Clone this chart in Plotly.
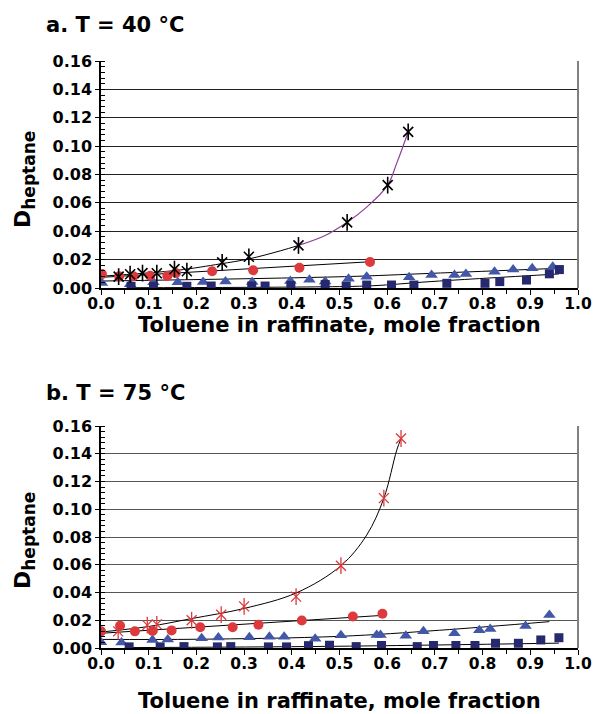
import plotly.graph_objects as go
from plotly.subplots import make_subplots

# ---- panel a, T = 40 C ----
stars_a_x = [0.037, 0.061, 0.087, 0.117, 0.154, 0.180, 0.254, 0.310, 0.414, 0.516, 0.601, 0.644]
stars_a_y = [0.0080, 0.0097, 0.0105, 0.0104, 0.0133, 0.0118, 0.0181, 0.0220, 0.0300, 0.0463, 0.0725, 0.1100]
circles_a_x = [0.002, 0.038, 0.068, 0.103, 0.139, 0.157, 0.233, 0.319, 0.416, 0.564]
circles_a_y = [0.0098, 0.0082, 0.0083, 0.0086, 0.0085, 0.0106, 0.0118, 0.0125, 0.0143, 0.0183]
tri_a_x = [0.002, 0.061, 0.110, 0.161, 0.214, 0.261, 0.317, 0.397, 0.437, 0.470, 0.519, 0.557,
           0.646, 0.693, 0.741, 0.765, 0.825, 0.864, 0.904, 0.947]
tri_a_y = [0.0035, 0.0026, 0.0040, 0.0040, 0.0042, 0.0045, 0.0043, 0.0050, 0.0058, 0.0045, 0.0066, 0.0080,
           0.0075, 0.0092, 0.0092, 0.0099, 0.0114, 0.0130, 0.0139, 0.0150]
sq_a_x = [0.063, 0.110, 0.180, 0.231, 0.316, 0.344, 0.398, 0.470, 0.514, 0.557, 0.609, 0.656,
          0.725, 0.805, 0.836, 0.892, 0.940, 0.961]
sq_a_y = [0.0012, 0.0012, 0.0012, 0.0014, 0.0014, 0.0014, 0.0018, 0.0025, 0.0014, 0.0021, 0.0021, 0.0021,
          0.0033, 0.0033, 0.0045, 0.0056, 0.0100, 0.0130]

# trend lines
fit_star_a_x = [0.0, 0.16, 0.25, 0.31, 0.376, 0.414]
fit_star_a_y = [0.0083, 0.0125, 0.0170, 0.0205, 0.0262, 0.0300]
fit_purple_a_x = [0.414, 0.47, 0.516, 0.557, 0.601, 0.62, 0.644]
fit_purple_a_y = [0.0300, 0.0370, 0.0463, 0.0570, 0.0725, 0.0880, 0.1100]
fit_circ_a_x = [0.0, 0.564]
fit_circ_a_y = [0.0075, 0.0185]
fit_tri_a_x = [0.0, 0.51, 0.69, 0.96]
fit_tri_a_y = [0.0049, 0.0080, 0.0103, 0.0139]
fit_sq_a_x = [0.06, 0.45, 0.57, 0.69, 0.96]
fit_sq_a_y = [0.0002, 0.0008, 0.0016, 0.0045, 0.0099]

# ---- panel b, T = 75 C ----
stars_b_x = [0.036, 0.097, 0.117, 0.190, 0.252, 0.300, 0.409, 0.503, 0.593, 0.629]
stars_b_y = [0.0120, 0.0165, 0.0170, 0.0200, 0.0240, 0.0300, 0.0370, 0.0593, 0.1080, 0.1510]
circles_b_x = [0.0, 0.040, 0.071, 0.108, 0.148, 0.208, 0.276, 0.330, 0.421, 0.528, 0.590]
circles_b_y = [0.0120, 0.0160, 0.0120, 0.0122, 0.0127, 0.0150, 0.0150, 0.0168, 0.0198, 0.0227, 0.0247]
tri_b_x = [0.0, 0.043, 0.108, 0.140, 0.211, 0.246, 0.311, 0.353, 0.384, 0.449, 0.503, 0.578, 0.586,
           0.639, 0.676, 0.741, 0.793, 0.816, 0.890, 0.940]
tri_b_y = [0.0042, 0.0040, 0.0058, 0.0062, 0.0070, 0.0075, 0.0077, 0.0081, 0.0081, 0.0066, 0.0092, 0.0094, 0.0094,
           0.0088, 0.0120, 0.0106, 0.0128, 0.0137, 0.0159, 0.0238]
sq_b_x = [0.059, 0.124, 0.174, 0.244, 0.272, 0.351, 0.389, 0.435, 0.479, 0.535, 0.588, 0.663,
          0.697, 0.744, 0.784, 0.827, 0.875, 0.922, 0.960]
sq_b_y = [0.0008, 0.0008, 0.0010, 0.0008, 0.0010, 0.0008, 0.0008, 0.0017, 0.0020, 0.0010, 0.0018, 0.0010,
          0.0018, 0.0018, 0.0018, 0.0034, 0.0034, 0.0058, 0.0074]

fit_star_b_x = [0.0, 0.10, 0.19, 0.30, 0.41, 0.503, 0.557, 0.593, 0.62, 0.629]
fit_star_b_y = [0.0115, 0.0155, 0.0212, 0.0285, 0.0398, 0.0593, 0.0814, 0.1080, 0.1426, 0.1510]
fit_circ_b_x = [0.0, 0.59]
fit_circ_b_y = [0.0106, 0.0235]
fit_tri_b_x = [0.0, 0.2, 0.5, 0.71, 0.94]
fit_tri_b_y = [0.0062, 0.0063, 0.0084, 0.0128, 0.0190]
fit_sq_b_x = [0.06, 0.48, 0.96]
fit_sq_b_y = [0.0003, 0.0012, 0.0035]

y_ticks = [0.0, 0.02, 0.04, 0.06, 0.08, 0.10, 0.12, 0.14, 0.16]
x_ticks = [0.0, 0.1, 0.2, 0.3, 0.4, 0.5, 0.6, 0.7, 0.8, 0.9, 1.0]

RED = "#DC3A3C"
BLUE = "#4357A8"
NAVY = "#27296F"
PURPLE = "#8E3F98"
FONT = "DejaVu Sans"

fig = make_subplots(rows=2, cols=1)


def line(x, y, row, color="black", w=1):
    fig.add_trace(go.Scatter(x=x, y=y, mode="lines", line=dict(color=color, width=w, shape="spline"),
                             hoverinfo="skip"), row=row, col=1)


def pts(x, y, row, symbol, color, size, lw=0):
    m = dict(symbol=symbol, size=size, color=color)
    if lw:
        m["line"] = dict(color=color, width=lw)
    fig.add_trace(go.Scatter(x=x, y=y, mode="markers", marker=m), row=row, col=1)


def stars(x, y, row, color, lw):
    # excel style star: an x with a vertical bar
    pts(x, y, row, "x-thin-open", color, 10, lw)
    pts(x, y, row, "line-ns-open", color, 12, lw)


# panel a
line(fit_sq_a_x, fit_sq_a_y, 1)
line(fit_tri_a_x, fit_tri_a_y, 1)
line(fit_circ_a_x, fit_circ_a_y, 1)
line(fit_star_a_x, fit_star_a_y, 1)
line(fit_purple_a_x, fit_purple_a_y, 1, PURPLE, 1.2)
pts(tri_a_x, tri_a_y, 1, "triangle-up", BLUE, 11)
pts(sq_a_x, sq_a_y, 1, "square", NAVY, 9)
pts(circles_a_x, circles_a_y, 1, "circle", RED, 10)
stars(stars_a_x, stars_a_y, 1, "black", 1.6)

# panel b
line(fit_sq_b_x, fit_sq_b_y, 2)
line(fit_tri_b_x, fit_tri_b_y, 2)
line(fit_circ_b_x, fit_circ_b_y, 2)
line(fit_star_b_x, fit_star_b_y, 2)
pts(tri_b_x, tri_b_y, 2, "triangle-up", BLUE, 11)
pts(sq_b_x, sq_b_y, 2, "square", NAVY, 9)
pts(circles_b_x, circles_b_y, 2, "circle", RED, 10)
stars(stars_b_x, stars_b_y, 2, RED, 1.3)

W, H = 594, 714
xdom = [101 / W, 578 / W]
ydoms = {1: [1 - 288 / H, 1 - 61 / H], 2: [1 - 648 / H, 1 - 426 / H]}
gridc = {1: "#222222", 2: "#555555"}

for r in (1, 2):
    fig.update_xaxes(domain=xdom, range=[0, 1.0], tickvals=x_ticks, tickformat=".1f", automargin=False,
                     showgrid=False, zeroline=False, showline=True, linecolor="black", linewidth=1.5,
                     ticks="outside", ticklen=5, tickcolor="black", tickwidth=1.2, ticklabelstandoff=-4,
                     minor=dict(dtick=0.05, ticks="outside", ticklen=4, tickcolor="black"),
                     tickfont=dict(family=FONT, size=15.5, color="black", weight="bold"),
                     row=r, col=1)
    fig.update_yaxes(domain=ydoms[r], range=[0, 0.16], tickvals=y_ticks, tickformat=".2f", automargin=False,
                     showgrid=True, gridcolor=gridc[r], gridwidth=1, zeroline=False,
                     showline=True, linecolor="black", linewidth=1.5,
                     ticks="outside", ticklen=4, tickcolor="black",
                     minor=dict(dtick=0.004, ticks="inside", ticklen=4, tickcolor="black", showgrid=False),
                     tickfont=dict(family=FONT, size=16, color="black", weight="bold"),
                     row=r, col=1)
    xr = "x" if r == 1 else "x2"
    yr = "y" if r == 1 else "y2"
    # grey right-hand border
    fig.add_shape(type="line", xref=xr + " domain", yref=yr + " domain", x0=1, x1=1, y0=0, y1=1,
                  line=dict(color="#808080", width=2))

# texts
titles = [("a. T = 40 °C", 25), ("b. T = 75 °C", 393)]
for txt, ypx in titles:
    fig.add_annotation(text="<b>" + txt + "</b>", xref="paper", yref="paper", x=44 / W, y=1 - ypx / H,
                       xanchor="left", yanchor="middle", showarrow=False,
                       font=dict(family=FONT, size=21, color="black"))

for ypx in (325, 701):
    fig.add_annotation(text="<b>Toluene in raffinate, mole fraction</b>", xref="paper", yref="paper",
                       x=339.5 / W, y=1 - ypx / H, xanchor="center", yanchor="middle", showarrow=False,
                       font=dict(family=FONT, size=21, color="black"))

for ypx in (180, 541):
    fig.add_annotation(text='<b>D<sub><span style="font-size:17px">heptane</span></sub></b>',
                       xref="paper", yref="paper", x=24 / W, y=1 - ypx / H, textangle=-90,
                       xanchor="center", yanchor="middle", showarrow=False,
                       font=dict(family=FONT, size=22, color="black"))

fig.update_layout(width=W, height=H, margin=dict(l=0, r=0, t=0, b=0),
                  paper_bgcolor="white", plot_bgcolor="white", showlegend=False)

# the page body has a default 8px margin; drop it so the figure fills the window
fig.write_html("out.html", config={"displayModeBar": False},
               post_script="document.body.style.margin='0';document.body.style.overflow='hidden';")
